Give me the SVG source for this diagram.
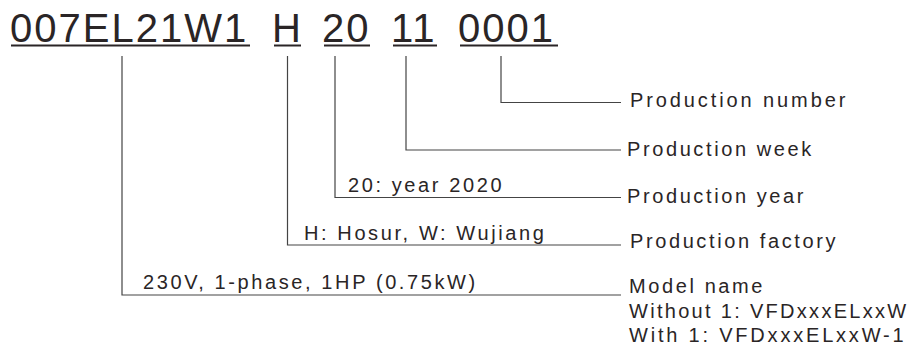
<svg xmlns="http://www.w3.org/2000/svg" width="924" height="349" viewBox="0 0 924 349">
<style>
.code{font-family:"Liberation Sans",Arial,sans-serif;font-size:40px;letter-spacing:2px;fill:#2a2526}
.lbl{font-family:"Liberation Sans",Arial,sans-serif;font-size:20px;letter-spacing:2.6px;fill:#2a2526}
.ul{stroke:#2a2526;stroke-width:2;fill:none}
.conn{stroke:#444;stroke-width:1.2;fill:none}
</style>
<rect width="924" height="349" fill="#fff"/>
<g id="code">
<text class="code" x="10" y="42">007EL21W1</text>
<text class="code" x="272" y="42">H</text>
<text class="code" x="322" y="42">20</text>
<text class="code" x="391" y="42">11</text>
<text class="code" x="458" y="42">0001</text>
<line class="ul" x1="11" y1="45.5" x2="250" y2="45.5"/>
<line class="ul" x1="274" y1="45.5" x2="301" y2="45.5"/>
<line class="ul" x1="324" y1="45.5" x2="370" y2="45.5"/>
<line class="ul" x1="393" y1="45.5" x2="437" y2="45.5"/>
<line class="ul" x1="460" y1="45.5" x2="558" y2="45.5"/>
</g>
<g id="connectors">
<polyline class="conn" points="501,56 501,102.5 621,102.5"/>
<polyline class="conn" points="406,56 406,150 621,150"/>
<polyline class="conn" points="335,56 335,197.5 621,197.5"/>
<polyline class="conn" points="287.5,56 287.5,245 621,245"/>
<polyline class="conn" points="122,56 122,295 621,295"/>
</g>
<g id="production-number"><text class="lbl" x="630" y="107" style="letter-spacing:2.9px">Production number</text></g>
<g id="production-week"><text class="lbl" x="627" y="156">Production week</text></g>
<g id="production-year"><text class="lbl" x="627" y="203">Production year</text><text class="lbl" x="348" y="192">20: year 2020</text></g>
<g id="production-factory"><text class="lbl" x="630" y="248">Production factory</text><text class="lbl" x="304" y="239.5">H: Hosur, W: Wujiang</text></g>
<g id="model-name"><text class="lbl" x="629" y="293">Model name</text><text class="lbl" x="629" y="318" style="letter-spacing:2.3px">Without 1: VFDxxxELxxW</text><text class="lbl" x="629" y="341.5" style="letter-spacing:2.8px">With 1: VFDxxxELxxW-1</text><text class="lbl" x="143" y="289">230V, 1-phase, 1HP (0.75kW)</text></g>
</svg>
